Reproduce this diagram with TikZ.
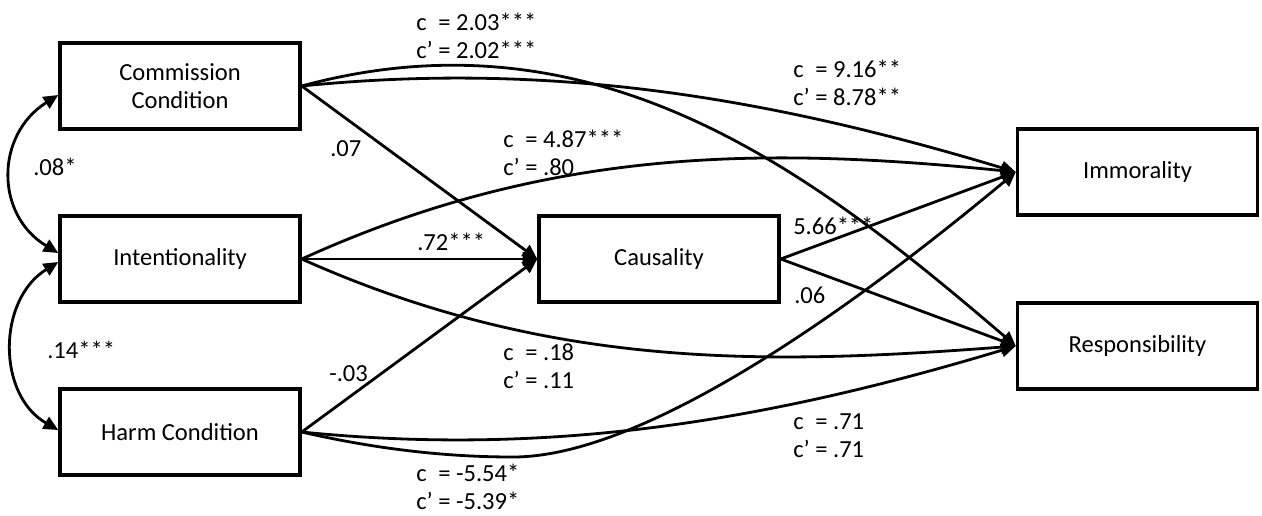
\documentclass[tikz,border=0pt]{standalone}
\usepackage{fontspec}
\setmainfont{Carlito}
\usetikzlibrary{arrows.meta,calc}
\newcommand{\dgfont}{\fontsize{18.4}{20.5}\selectfont}
\begin{document}
\begin{tikzpicture}[x=0.75pt,y=-0.75pt,
  box/.style={draw, line width=2.6pt, minimum width=180pt, minimum height=64.5pt, inner sep=0pt, align=center, font=\dgfont},
  conn/.style={line width=2.1pt, -{Triangle[length=11pt,width=10pt]}},
  dbl/.style={line width=2.1pt, {Triangle[length=11pt,width=10pt]}-{Triangle[length=11pt,width=10pt]}},
  lab/.style={anchor=west, inner sep=0pt, font=\dgfont, align=left}
]
\useasboundingbox (0,0) rectangle (1262,515);

% boxes
\node[box] (comm)  at (180,86)    {Commission\\Condition};
\node[box] (inten) at (180,259)   {Intentionality};
\node[box] (harm)  at (180,432)   {Harm Condition};
\node[box] (caus)  at (659,259)   {Causality};
\node[box] (immor) at (1137.5,172) {Immorality};
\node[box] (resp)  at (1137.5,346) {Responsibility};

% straight paths
\draw[conn] (comm.east) -- (caus.west);
\draw[conn] (inten.east) -- (caus.west);
\draw[conn] (harm.east) -- (caus.west);
\draw[conn] (caus.east) -- (immor.west);
\draw[conn] (caus.east) -- (resp.west);

% curved paths
\draw[conn] (comm.east) .. controls (600,5) and (817,176) .. (resp.west);
\draw[conn] (comm.east) .. controls (550,61) and (767,97) .. (immor.west);
\draw[conn] (inten.east) .. controls (550,146) and (767,147) .. (immor.west);
\draw[conn] (inten.east) .. controls (550,370) and (767,365) .. (resp.west);
\coordinate (hlow) at (513,457);
\draw[conn] (harm.east) .. controls (380,450) and (450,457) .. (hlow) .. controls (650,457) and (867,296) .. (immor.west);
\draw[conn] (harm.east) .. controls (550,457) and (767,421) .. (resp.west);

% correlations
\draw[dbl] ($(comm.west)+(0,9)$) .. controls (-5,135) and (-5,215) .. ($(inten.west)+(0,-6)$);
\draw[dbl] ($(inten.west)+(0,3)$) .. controls (-3,300) and (-3,395) .. ($(harm.west)+(0,-2)$);

% labels
\node[lab] (l1) at (416,39) {\begin{tabular}{@{}l@{ = }l@{}}c & 2.03***\\c’ & 2.02***\end{tabular}};
\node[lab] (l2) at (793,86) {\begin{tabular}{@{}l@{ = }l@{}}c & 9.16**\\c’ & 8.78**\end{tabular}};
\node[lab] (l3) at (503,156) {\begin{tabular}{@{}l@{ = }l@{}}c & 4.87***\\c’ & .80\end{tabular}};
\node[lab] (l4) at (503,369) {\begin{tabular}{@{}l@{ = }l@{}}c & .18\\c’ & .11\end{tabular}};
\node[lab] (l5) at (793,438) {\begin{tabular}{@{}l@{ = }l@{}}c & .71\\c’ & .71\end{tabular}};
\node[lab] (l6) at (416,490) {\begin{tabular}{@{}l@{ = }l@{}}c & -5.54*\\c’ & -5.39*\end{tabular}};
\node[lab] (l7) at (417,242) {.72***};
\node[lab] (l8) at (793,226) {5.66***};
\node[lab] (l9) at (330,149) {.07};
\node[lab] (l10) at (329,374) {-.03};
\node[lab] (l11) at (794,295) {.06};
\node[lab] (l12) at (33,167) {.08*};
\node[lab] (l13) at (47,350) {.14***};
\end{tikzpicture}
\end{document}
